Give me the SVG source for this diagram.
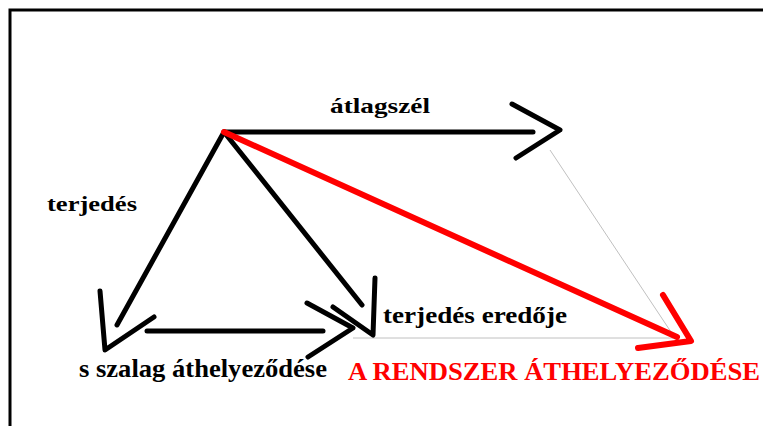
<svg xmlns="http://www.w3.org/2000/svg" width="763" height="426" viewBox="0 0 763 426">
<style>
.lbl{font-family:"Liberation Serif","Times New Roman",serif;font-weight:bold;fill:#000}
.red{fill:#ff0000}
.arr{fill:none;stroke:#000;stroke-width:5;stroke-linecap:round;stroke-linejoin:round}
.rarr{fill:none;stroke:#ff0000;stroke-width:6;stroke-linecap:round;stroke-linejoin:round}
.guide{fill:none;stroke:#c0c0c0;stroke-width:1}
</style>
<rect width="763" height="426" fill="#fff"/>
<path d="M10 426 V10 H763" fill="none" stroke="#000" stroke-width="3"/>
<g id="connectors">
  <line class="guide" x1="550" y1="150" x2="673" y2="335"/>
  <line class="guide" x1="353" y1="338" x2="673" y2="338"/>
  <line class="arr" x1="224" y1="132" x2="533" y2="132"/>
  <polyline class="arr" points="512,104 560,130 516,158"/>
  <line class="arr" x1="224" y1="132" x2="117" y2="325"/>
  <polyline class="arr" points="100,291 105,350 154,317"/>
  <line class="arr" x1="147" y1="331" x2="323" y2="331"/>
  <polyline class="arr" points="307,303 353,328 308,357"/>
  <line class="arr" x1="224" y1="132" x2="362" y2="305"/>
  <polyline class="arr" points="333,307 373,335 375,278"/>
  <line class="rarr" x1="224" y1="132" x2="677" y2="337"/>
  <polyline class="rarr" points="663,295 691,341 638,348"/>
</g>
<g id="atlagszel"><text class="lbl" x="330" y="113" font-size="22" textLength="100" lengthAdjust="spacingAndGlyphs">átlagszél</text></g>
<g id="terjedes"><text class="lbl" x="47" y="211" font-size="22" textLength="90" lengthAdjust="spacingAndGlyphs">terjedés</text></g>
<g id="terjedes-eredoje"><text class="lbl" x="383" y="323" font-size="23" textLength="184" lengthAdjust="spacingAndGlyphs">terjedés eredője</text></g>
<g id="szalag"><text class="lbl" x="79" y="377" font-size="25" textLength="248" lengthAdjust="spacingAndGlyphs">s szalag áthelyeződése</text></g>
<g id="rendszer"><text class="lbl red" x="348" y="380" font-size="26" textLength="412" lengthAdjust="spacingAndGlyphs">A RENDSZER ÁTHELYEZŐDÉSE</text></g>
</svg>
